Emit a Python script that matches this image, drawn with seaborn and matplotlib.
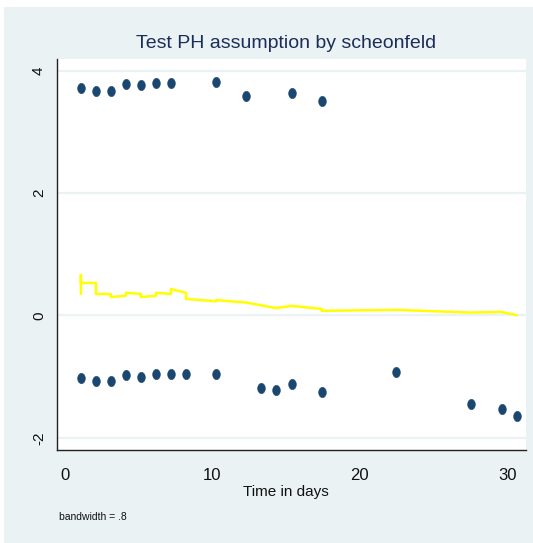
import numpy as np
import pandas as pd
import matplotlib
matplotlib.use("Agg")
import matplotlib.pyplot as plt
import matplotlib.path as mpath
from matplotlib.patches import Rectangle
import seaborn as sns

# ---- data ----
upper_t = [1.10, 2.12, 3.12, 4.15, 5.17, 6.19, 7.20, 10.25, 12.30, 15.38, 17.41]
upper_r = [3.71, 3.66, 3.67, 3.78, 3.76, 3.79, 3.80, 3.81, 3.58, 3.64, 3.51]

lower_t = [1.10, 2.12, 3.12, 4.15, 5.17, 6.19, 7.20, 8.22, 10.25, 13.33, 14.35,
           15.38, 17.41, 22.46, 27.55, 29.62, 30.65]
lower_r = [-1.03, -1.08, -1.08, -0.97, -1.00, -0.96, -0.95, -0.95, -0.95, -1.18,
           -1.22, -1.12, -1.26, -0.92, -1.45, -1.53, -1.64]

smooth_t = [1.10, 1.10, 1.10, 2.12, 2.12, 3.12, 3.12, 4.15, 4.15, 5.17, 5.17,
            6.19, 6.19, 7.20, 7.20, 8.22, 8.22, 10.25, 10.25, 12.30, 14.32,
            15.40, 17.41, 17.41, 22.45, 27.53, 29.61, 30.65]
smooth_r = [0.35, 0.66, 0.53, 0.53, 0.35, 0.35, 0.30, 0.32, 0.37, 0.35, 0.30,
            0.32, 0.37, 0.35, 0.43, 0.37, 0.27, 0.23, 0.25, 0.21, 0.12,
            0.155, 0.106, 0.074, 0.09, 0.046, 0.057, 0.003]

x_ticks = [0, 10, 20, 30]
y_ticks = [-2, 0, 2, 4]

title = "Test PH assumption by scheonfeld"
x_label = "Time in days"
note = "bandwidth = .8"

# ---- styling ----
sns.set_style("white")
fam = ["Liberation Sans Narrow", "Liberation Sans", "DejaVu Sans"]
plt.rcParams["font.family"] = fam

BG = "#eaf2f3"
NAVY = "#1a476f"

W, H = 533, 543
fig = plt.figure(figsize=(W / 100, H / 100), dpi=100)
fig.patch.set_facecolor("white")
fig.add_artist(Rectangle((4 / W, 0), 1 - 4 / W, 1 - 7 / H, transform=fig.transFigure,
                         facecolor=BG, edgecolor="none", zorder=-10))

ax = fig.add_axes([57 / W, 93 / H, 469 / W, 391 / H])
ax.set_facecolor("white")

df_pts = pd.DataFrame({"t": upper_t + lower_t, "r": upper_r + lower_r})
theta = np.linspace(0, 2 * np.pi, 64)
ell = mpath.Path(np.column_stack([0.74 * np.cos(theta), np.sin(theta)]))

sns.lineplot(x=smooth_t, y=smooth_r, sort=False, estimator=None, color="#ffff00",
             lw=1.8, ax=ax, zorder=3)
sns.scatterplot(data=df_pts, x="t", y="r", marker=ell, s=55, color=NAVY,
                edgecolor=NAVY, linewidth=0.4, ax=ax, zorder=4)

ax.set_xlim(-0.52, 31.27)
ax.set_ylim(-2.20, 4.19)
ax.set_xticks(x_ticks)
ax.set_yticks(y_ticks)
ax.set_xticklabels([str(v) for v in x_ticks])
ax.set_yticklabels([str(v) for v in y_ticks])
ax.set_xlabel("")
ax.set_ylabel("")

ax.yaxis.grid(True, color=BG, lw=1.6)
ax.xaxis.grid(False)
ax.set_axisbelow(True)

for s in ["top", "right"]:
    ax.spines[s].set_visible(False)
for s in ["left", "bottom"]:
    ax.spines[s].set_color("#222222")
    ax.spines[s].set_linewidth(1.0)

ax.tick_params(axis="both", direction="out", length=5, width=0.9, color="#333333",
               labelcolor="#111111")
ax.tick_params(axis="x", pad=8, labelsize=12)
ax.tick_params(axis="y", pad=3, labelsize=11)
for lbl in ax.get_yticklabels():
    lbl.set_rotation(90)
    lbl.set_va("center")

fig.text(286 / W, 1 - 43 / H, title, ha="center", va="center", fontsize=14,
         color="#1c2d5a")
fig.text(286 / W, 1 - 492 / H, x_label, ha="center", va="center", fontsize=11,
         color="#111111")
fig.text(59 / W, 1 - 517 / H, note, ha="left", va="center", fontsize=7.5,
         color="#111111")

fig.savefig("out.png", dpi=100, facecolor=fig.get_facecolor())
